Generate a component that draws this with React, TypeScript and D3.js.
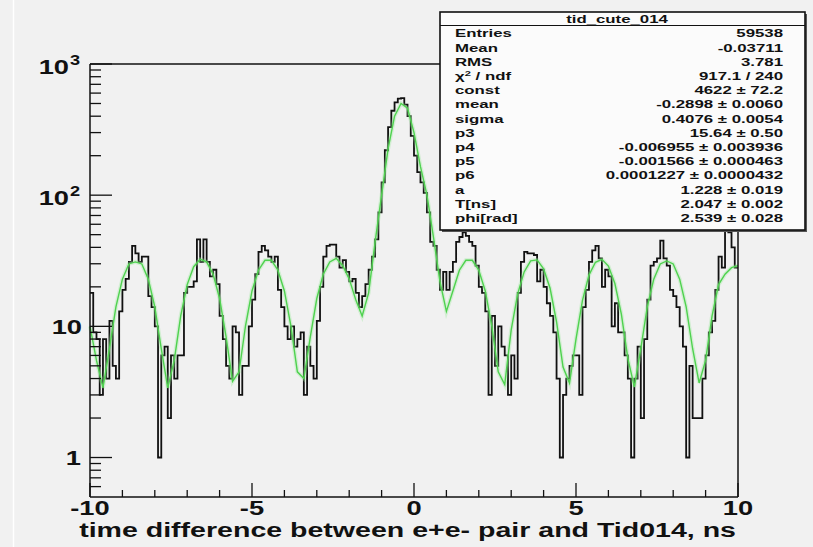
import React from 'react';
import * as d3 from 'd3';

// ---------- data ----------
const X_DOMAIN = [-10, 10];
const Y_DOMAIN = [0.5, 1000];
const BIN_START = -10;
const BIN_WIDTH = 0.1;

// histogram counts, 200 bins of 0.1 ns from -10 to 10
const countsPart1 = [18, 9, 8, 3, 8, 4, 11, 5, 4, 13, 19, 23, 31, 41, 36, 31, 34, 34, 17, 14, 10, 1, 6, 7, 2, 6, 4, 6, 6, 18, 20, 20, 22, 46, 31, 46, 31, 24, 27, 21, 12, 8, 5, 4, 10, 9, 3, 5, 5, 10];
const countsPart2 = [16, 25, 37, 41, 38, 34, 31, 34, 19, 14, 10, 8, 10, 7, 8, 9, 3, 7, 5, 4, 11, 20, 34, 41, 42, 42, 34, 28, 32, 26, 22, 23, 18, 14, 17, 21, 27, 34, 46, 74, 125, 220, 330, 440, 510, 545, 550, 490, 400, 283];
const countsPart3 = [200, 150, 125, 104, 74, 44, 41, 27, 19, 26, 19, 26, 31, 44, 48, 52, 49, 44, 41, 29, 20, 18, 13, 3, 12, 5, 10, 7, 6, 3, 6, 4, 18, 31, 37, 36, 36, 35, 22, 27, 20, 15, 12, 9, 4, 1, 3, 4, 5, 6];
const countsPart4 = [6, 3, 14, 19, 31, 38, 41, 33, 20, 27, 24, 10, 15, 9, 9, 6, 4, 1, 4, 7, 2, 8, 16, 29, 31, 33, 45, 33, 29, 19, 17, 14, 10, 7, 1, 5, 2, 2, 2, 4, 6, 9, 11, 19, 34, 28, 65, 52, 40, 28];
const counts = [...countsPart1, ...countsPart2, ...countsPart3, ...countsPart4];

// fitted curve sampled every 0.2 ns from -10 to 10
const FIT_START = -10;
const FIT_STEP = 0.2;
const fitValues = [
  10, 5.5, 3.4, 6.75, 14.1, 22.9, 29.9, 31, 29.9, 22.9, 14.1,
  6.75, 3.4, 5.5, 12, 20.8, 28.5, 32.4, 31, 25, 16.3,
  8.3, 3.8, 4.5, 10.1, 18.6, 26.8, 31.9, 31.9, 26.8, 18.6,
  10.1, 4.5, 4.0, 8.3, 16.3, 25, 31, 33, 29, 23,
  16, 12, 18, 44, 100, 225, 400, 500, 460, 300,
  165, 100, 48, 22, 13, 18.6, 26.8, 31.9, 31.9, 26.8,
  18.6, 10.1, 4.5, 3.6, 9.4, 17.7, 26, 31.6, 32.1, 27.4,
  19.5, 10.8, 4.9, 3.7, 8, 15.8, 24.6, 30.8, 32.4, 28.8,
  21.2, 12.4, 5.7, 3.45, 6.75, 14.1, 22.9, 29.9, 31.5, 29.9,
  22.9, 14.1, 6.75, 3.7, 5.5, 12, 20.8, 25, 28, 29,
];

const xMajorTicks = [-10, -5, 0, 5, 10];
const xMinorTicks = [-9, -8, -7, -6, -4, -3, -2, -1, 1, 2, 3, 4, 6, 7, 8, 9];
const yMajorTicks = [1, 10, 100, 1000];
const yMinorTicks = [0.6, 0.7, 0.8, 0.9, 2, 3, 4, 5, 6, 7, 8, 9, 20, 30, 40, 50, 60, 70, 80, 90, 200, 300, 400, 500, 600, 700, 800, 900];

const xTitle = 'time difference between e+e- pair and Tid014, ns';
const statsTitle = 'tid_cute_014';
const statsLabels = ['Entries', 'Mean', 'RMS', 'CHI', 'const', 'mean', 'sigma', 'p3', 'p4', 'p5', 'p6', 'a', 'T[ns]', 'phi[rad]'];
const statsValues = ['59538', '-0.03711', '3.781', '917.1 / 240', '4622 \u00b1 72.2', '-0.2898 \u00b1 0.0060', '0.4076 \u00b1 0.0054', '15.64 \u00b1 0.50', '-0.006955 \u00b1 0.003936', '-0.001566 \u00b1 0.000463', '0.0001227 \u00b1 0.0000432', '1.228 \u00b1 0.019', '2.047 \u00b1 0.002', '2.539 \u00b1 0.028'];

// ---------- layout ----------
const W = 813;
const H = 547;
const PL = 90, PR = 738, PT = 64, PB = 497;
const FONT = "'Liberation Sans', Arial, Helvetica, sans-serif";

function T(props: any) {
  const { x, y, size, sx = 1, anchor = 'start', children, fill = '#111' } = props;
  return (
    <text
      transform={`translate(${x},${y}) scale(${sx},1)`}
      textAnchor={anchor}
      fontSize={size}
      fontWeight="bold"
      fontFamily={FONT}
      fill={fill}
    >
      {children}
    </text>
  );
}

export default function App() {
  const x = d3.scaleLinear().domain(X_DOMAIN).range([PL, PR]);
  const y = d3.scaleLog().domain(Y_DOMAIN).range([PB, PT]);

  // histogram step path
  let hist = '';
  counts.forEach((c, i) => {
    const x0 = x(BIN_START + i * BIN_WIDTH);
    const x1 = x(BIN_START + (i + 1) * BIN_WIDTH);
    const yy = y(Math.max(c, Y_DOMAIN[0]));
    hist += (i === 0 ? `M${x0},${yy}` : `L${x0},${yy}`) + `L${x1},${yy}`;
  });

  const fitLine = d3
    .line<number>()
    .x((_, i) => x(FIT_START + i * FIT_STEP))
    .y((v) => y(v))(fitValues) as string;

  const axisSx = 1.3;
  const statSx = 1.6;
  const rowY = (i: number) => 37.3 + 14.2 * i;

  return (
    <svg
      width={W}
      height={H}
      style={{ position: 'absolute', left: 0, top: 0, display: 'block' }}
    >
      <rect x={0} y={0} width={W} height={H} fill="#f1f1f1" />
      <line x1={13.5} y1={0} x2={13.5} y2={H} stroke="#ffffff" strokeWidth={1.5} />

      {/* histogram and fit */}
      <path d={hist} fill="none" stroke="#111" strokeWidth={1.8} />
      <path d={fitLine} fill="none" stroke="#9be89b" strokeWidth={4} strokeOpacity={0.35} />
      <path d={fitLine} fill="none" stroke="#4fd24f" strokeWidth={1.4} />

      {/* frame */}
      <line x1={PL} y1={PT} x2={PR} y2={PT} stroke="#111" strokeWidth={1.5} />
      <line x1={PR} y1={PT} x2={PR} y2={PB} stroke="#111" strokeWidth={1.5} />
      <line x1={PL} y1={PT} x2={PL} y2={PB} stroke="#111" strokeWidth={1.5} />
      <line x1={PL} y1={PB} x2={PR} y2={PB} stroke="#111" strokeWidth={1.5} />

      {/* x ticks */}
      {xMajorTicks.map((t) => (
        <line key={`xM${t}`} x1={x(t)} x2={x(t)} y1={PB} y2={PB - 14} stroke="#111" strokeWidth={1.3} />
      ))}
      {xMinorTicks.map((t) => (
        <line key={`xm${t}`} x1={x(t)} x2={x(t)} y1={PB} y2={PB - 7} stroke="#111" strokeWidth={1.3} />
      ))}
      {xMajorTicks.map((t) => (
        <T key={`xl${t}`} x={x(t)} y={515} size={21} sx={axisSx} anchor="middle">
          {String(t)}
        </T>
      ))}

      {/* y ticks */}
      {yMajorTicks.map((t) => (
        <line key={`yM${t}`} x1={PL} x2={PL + 22} y1={y(t)} y2={y(t)} stroke="#111" strokeWidth={1.3} />
      ))}
      {yMinorTicks.map((t) => (
        <line key={`ym${t}`} x1={PL} x2={PL + 11} y1={y(t)} y2={y(t)} stroke="#111" strokeWidth={1.3} />
      ))}
      <T x={81} y={y(1) + 7.5} size={21} sx={axisSx} anchor="end">1</T>
      <T x={82} y={y(10) + 7.5} size={21} sx={axisSx} anchor="end">10</T>
      <T x={69} y={y(100) + 10} size={21} sx={axisSx} anchor="end">10</T>
      <T x={70} y={y(100) + 1} size={14} sx={axisSx}>2</T>
      <T x={69} y={y(1000) + 10} size={21} sx={axisSx} anchor="end">10</T>
      <T x={70} y={y(1000) + 1} size={14} sx={axisSx}>3</T>

      {/* x title */}
      <T x={736} y={537} size={21} sx={1.36} anchor="end">{xTitle}</T>

      {/* stats box */}
      <rect x={442} y={14} width={365} height={218} fill="#555" />
      <rect x={440} y={12} width={365} height={218} fill="#fbfbfb" stroke="#111" strokeWidth={1.6} />
      <line x1={440} y1={25.5} x2={805} y2={25.5} stroke="#111" strokeWidth={1.2} />
      <T x={617} y={22.5} size={10.5} sx={statSx} anchor="middle">{statsTitle}</T>
      {statsLabels.map((l, i) =>
        l === 'CHI' ? (
          <text
            key={l}
            transform={`translate(455,${rowY(i)}) scale(${statSx},1)`}
            fontSize={10.5}
            fontWeight="bold"
            fontFamily={FONT}
            fill="#111"
          >
            {'\u03c7'}
            <tspan dy={-4} fontSize={7}>2</tspan>
            <tspan dy={4}>{' / ndf'}</tspan>
          </text>
        ) : (
          <T key={l} x={455} y={rowY(i)} size={10.5} sx={statSx}>{l}</T>
        )
      )}
      {statsValues.map((v, i) => (
        <T key={`v${i}`} x={783} y={rowY(i)} size={10.5} sx={statSx} anchor="end">{v}</T>
      ))}
    </svg>
  );
}
